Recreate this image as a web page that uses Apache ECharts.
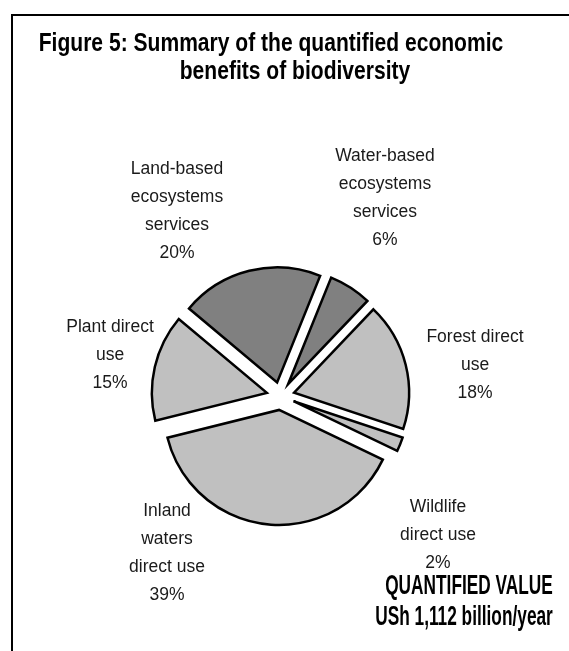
<!DOCTYPE html>
<html>
<head>
<meta charset="utf-8">
<script src="https://cdn.jsdelivr.net/npm/echarts@6/dist/echarts.min.js"></script>
<style>
  html, body { margin: 0; padding: 0; background: #fff; }
  #benefits_pie { width: 569px; height: 651px; }
</style>
</head>
<body>
<div id="benefits_pie"></div>
<script>
// slices clockwise from the top
var categories = ["Water-based ecosystems services", "Forest direct use", "Wildlife direct use",
  "Inland waters direct use", "Plant direct use", "Land-based ecosystems services"];
var labelTexts = ["Water-based\necosystems\nservices", "Forest direct\nuse", "Wildlife\ndirect use",
  "Inland\nwaters\ndirect use", "Plant direct\nuse", "Land-based\necosystems\nservices"];
var shares = [6, 18, 2, 39, 15, 20];
var titleLines = ["Figure 5: Summary of the quantified economic", "benefits of biodiversity"];
var totalLines = ["QUANTIFIED VALUE", "USh 1,112 billion/year"];

var sliceColors = ["#808080", "#c0c0c0", "#c0c0c0", "#c0c0c0", "#c0c0c0", "#808080"];
var labelSpots = [[385, 198], [475, 365], [438, 535], [167, 553], [110, 355], [177, 211]];

var font = "'Liberation Sans', Arial, sans-serif";
var pieCenter = [280.5, 396];
var pieRadius = 115;

var chart = echarts.init(document.getElementById("benefits_pie"), null, { renderer: "canvas" });

function headText(x, y, text, size, sx) {
  return {
    type: "text",
    x: x,
    y: y,
    scaleX: sx,
    silent: true,
    style: {
      text: text,
      fontFamily: font,
      fontWeight: "bold",
      fontSize: size,
      fill: "#000",
      align: "center",
      verticalAlign: "middle",
      textAlign: "center",
      textVerticalAlign: "middle"
    }
  };
}

chart.setOption({
  animation: false,
  backgroundColor: "#fff",
  graphic: [
    { type: "line", silent: true, shape: { x1: 11, y1: 15, x2: 569, y2: 15 }, style: { stroke: "#000", lineWidth: 2 } },
    { type: "line", silent: true, shape: { x1: 12, y1: 14, x2: 12, y2: 651 }, style: { stroke: "#000", lineWidth: 2 } },
    headText(271, 44, titleLines[0], 26, 0.81),
    headText(295, 72, titleLines[1], 26, 0.81),
    headText(469, 587, totalLines[0], 27, 0.64),
    headText(464, 618, totalLines[1], 27, 0.64)
  ],
  series: [
    {
      // exploded slices
      type: "pie",
      center: pieCenter,
      radius: pieRadius,
      startAngle: 68,
      clockwise: true,
      selectedMode: "multiple",
      selectedOffset: 14,
      emphasis: { disabled: true },
      itemStyle: { borderColor: "#000", borderWidth: 2.5, borderJoin: "miter" },
      select: { itemStyle: { borderColor: "#000", borderWidth: 2.5 } },
      label: { show: false },
      labelLine: { show: false },
      data: categories.map(function (name, i) {
        return {
          name: name,
          value: shares[i],
          selected: true,
          itemStyle: { color: sliceColors[i] },
          select: { itemStyle: { color: sliceColors[i] } }
        };
      })
    },
    {
      // same slices, transparent, only carrying the labels
      type: "pie",
      center: pieCenter,
      radius: pieRadius,
      startAngle: 68,
      clockwise: true,
      silent: true,
      selectedMode: false,
      z: 1,
      emphasis: { disabled: true },
      itemStyle: { color: "rgba(0,0,0,0)", borderWidth: 0 },
      labelLine: { show: false },
      label: {
        show: true,
        position: "outside",
        fontFamily: font,
        fontSize: 17.5,
        lineHeight: 28,
        color: "#1a1a1a",
        align: "center",
        formatter: function (p) {
          return labelTexts[p.dataIndex] + "\n" + p.value + "%";
        }
      },
      labelLayout: function (p) {
        var s = labelSpots[p.dataIndex];
        return { x: s[0], y: s[1], align: "center", verticalAlign: "middle", hideOverlap: false };
      },
      data: categories.map(function (name, i) {
        return { name: name, value: shares[i] };
      })
    }
  ]
});
</script>
</body>
</html>
